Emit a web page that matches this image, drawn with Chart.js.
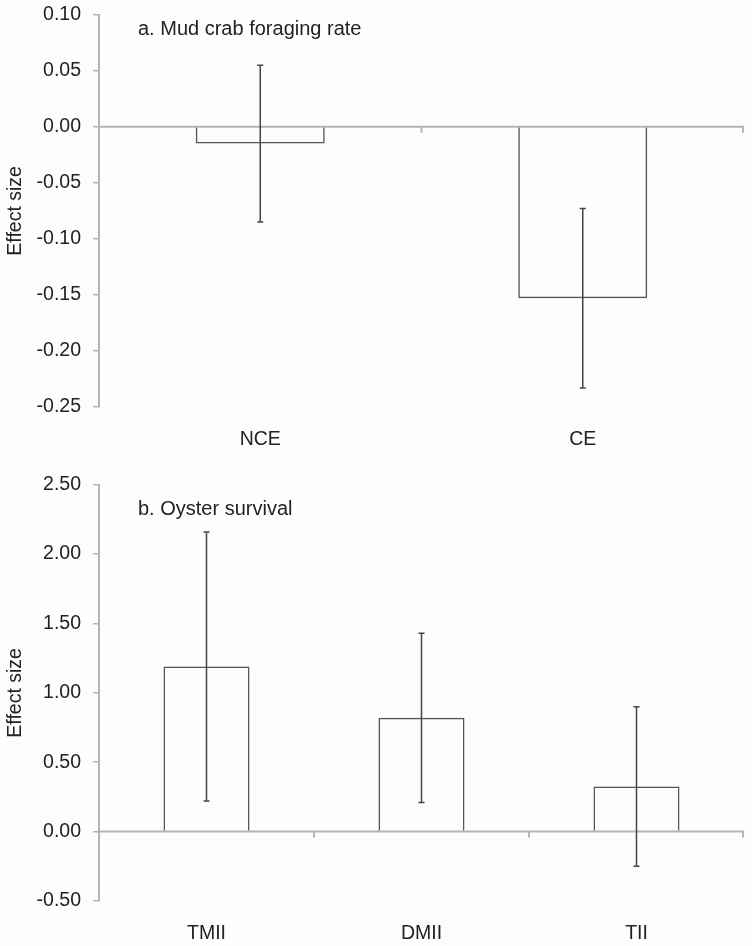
<!DOCTYPE html>
<html>
<head>
<meta charset="utf-8">
<script src="https://cdn.jsdelivr.net/npm/chart.js@4/dist/chart.umd.min.js"></script>
<style>
  html, body { margin: 0; padding: 0; background: #fdfdfd; overflow: hidden; }
  #wrap { width: 752px; height: 946px; position: relative; overflow: hidden; }
  canvas { display: block; position: absolute; left: 0; }
</style>
</head>
<body>
<div id="wrap">
  <canvas id="crabChart" width="752" height="481" style="top:-9px"></canvas>
  <canvas id="oysterChart" width="752" height="485" style="top:461px"></canvas>
</div>
<script>
// panel a
const crabLabels = ['NCE', 'CE'];
const crabValues = [-0.015, -0.153];
const crabErrors = [0.07, 0.08];
const crabTicks = { min: -0.25, max: 0.10, step: 0.05 };

// panel b
const oysterLabels = ['TMII', 'DMII', 'TII'];
const oysterValues = [1.19, 0.82, 0.325];
const oysterErrors = [0.97, 0.61, 0.575];
const oysterTicks = { min: -0.50, max: 2.50, step: 0.50 };

const FONT = "'Liberation Sans', Arial, sans-serif";
const TEXT = '#222';
const AXIS = '#b4b4b4';

// zero line with category ticks, then error bars on top
const errorBarPlugin = {
    id: 'errorBars',
    afterDatasetsDraw(chart, args, opts) {
        const ctx = chart.ctx;
        const x = chart.scales.x;
        const y = chart.scales.y;
        const area = chart.chartArea;
        const y0 = y.getPixelForValue(0);

        ctx.save();
        ctx.strokeStyle = AXIS;
        ctx.lineWidth = 2;
        ctx.beginPath();
        ctx.moveTo(area.left, y0);
        ctx.lineTo(area.right, y0);
        const n = chart.data.labels.length;
        for (let i = 0; i < n; i++) {
            const bx = i === n - 1 ? area.right - 1 : x.getPixelForValue(i + 0.5);
            ctx.moveTo(bx, y0);
            ctx.lineTo(bx, y0 + 6);
        }
        ctx.stroke();

        const meta = chart.getDatasetMeta(0);
        const values = chart.data.datasets[0].data;
        ctx.strokeStyle = '#444';
        ctx.lineWidth = 1.5;
        meta.data.forEach((bar, i) => {
            const top = y.getPixelForValue(values[i] + opts.errors[i]);
            const bottom = y.getPixelForValue(values[i] - opts.errors[i]);
            ctx.beginPath();
            ctx.moveTo(bar.x, top);
            ctx.lineTo(bar.x, bottom);
            ctx.moveTo(bar.x - 3, top);
            ctx.lineTo(bar.x + 3, top);
            ctx.moveTo(bar.x - 3, bottom);
            ctx.lineTo(bar.x + 3, bottom);
            ctx.stroke();
        });

        // panel heading
        ctx.fillStyle = TEXT;
        ctx.font = '20px ' + FONT;
        ctx.textBaseline = 'middle';
        ctx.fillText(opts.heading, 138, area.top + opts.headingOffset);
        ctx.restore();
    }
};

function makeChart(id, labels, values, errors, ticks, heading, headingOffset, xHeight) {
    return new Chart(document.getElementById(id), {
        type: 'bar',
        data: {
            labels: labels,
            datasets: [{
                data: values,
                backgroundColor: 'rgba(255,255,255,0)',
                borderColor: '#555',
                borderWidth: 1.5,
                barPercentage: 0.4,
                categoryPercentage: 1
            }]
        },
        options: {
            responsive: false,
            animation: false,
            layout: { padding: { top: 4, right: 8, left: 0, bottom: 0 } },
            scales: {
                x: {
                    grid: { display: false },
                    border: { display: false },
                    ticks: { color: TEXT, font: { family: FONT, size: 19.5 }, padding: 13 },
                    afterFit(scale) { scale.height = xHeight; }
                },
                y: {
                    min: ticks.min,
                    max: ticks.max,
                    border: { display: true, color: AXIS, width: 2 },
                    grid: { display: true, drawOnChartArea: false, drawTicks: true, tickLength: 6, color: AXIS, lineWidth: 1.5 },
                    ticks: {
                        stepSize: ticks.step,
                        color: TEXT,
                        padding: 12,
                        font: { family: FONT, size: 19.5 },
                        callback: v => (Math.abs(v) < 1e-9 ? 0 : v).toFixed(2)
                    },
                    title: { display: true, text: 'Effect size', color: TEXT, font: { family: FONT, size: 19.5 }, padding: { top: 4, bottom: 4 } },
                    afterFit(scale) { scale.width = 99; }
                }
            },
            plugins: {
                legend: { display: false },
                tooltip: { enabled: false },
                errorBars: { errors: errors, heading: heading, headingOffset: headingOffset }
            }
        },
        plugins: [errorBarPlugin]
    });
}

makeChart('crabChart', crabLabels, crabValues, crabErrors, crabTicks, 'a. Mud crab foraging rate', 15, 65);
makeChart('oysterChart', oysterLabels, oysterValues, oysterErrors, oysterTicks, 'b. Oyster survival', 25, 45);
</script>
</body>
</html>
